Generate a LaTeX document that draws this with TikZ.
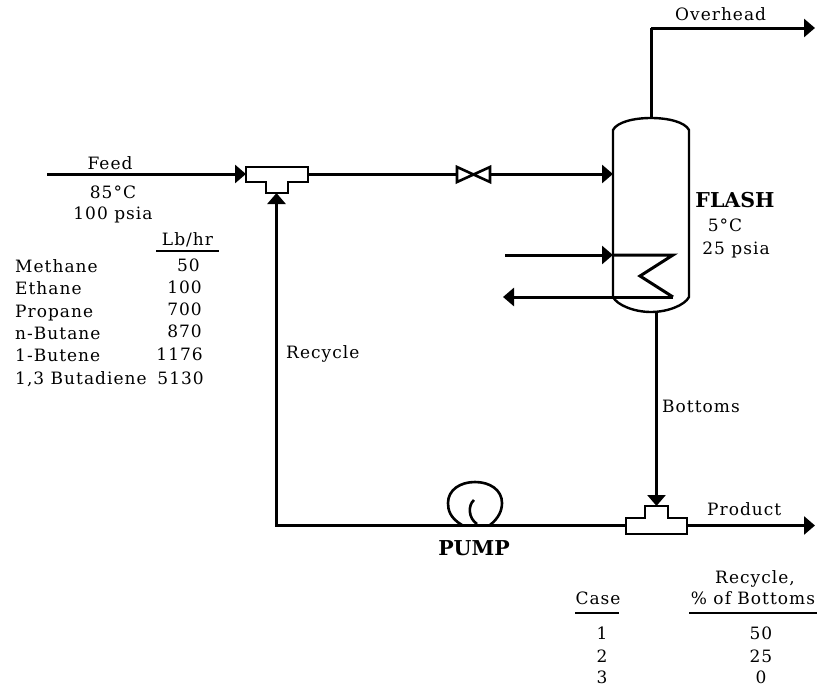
\documentclass[tikz,border=0pt]{standalone}
\usepackage{fontspec}
\setmainfont{DejaVu Serif}
\newfontfamily\labelfont[LetterSpace=6]{DejaVu Serif}
\usetikzlibrary{arrows.meta}
\tikzset{
  pipe/.style={line width=3pt,line join=miter},
  flow/.style={pipe,-{Triangle[length=11pt,width=18pt]}},
  equip/.style={line width=2.6pt,line join=miter},
  txt/.style={inner sep=0pt,text height=12.5pt,text depth=0pt,font=\labelfont\fontsize{17}{19}\selectfont},
  lft/.style={txt,anchor=west},
  rgt/.style={txt,anchor=east},
  bld/.style={inner sep=0pt,text height=15pt,text depth=0pt,font=\fontsize{20.5}{22}\selectfont\bfseries},
  tablerule/.style={line width=2pt}
}
\begin{document}
\begin{tikzpicture}[x=1pt,y=-1pt]
\useasboundingbox (0,0) rectangle (817,688);
% named points
\coordinate (feedin) at (47,174);
\coordinate (t1w) at (246,174);
\coordinate (t1e) at (308,174);
\coordinate (t1s) at (276.5,193);
\coordinate (vw) at (457,174);
\coordinate (ve) at (490,174);
\coordinate (fin) at (613,174);
\coordinate (ftop) at (651,118);
\coordinate (ovc) at (651,28);
\coordinate (ovout) at (815,28);
\coordinate (fbot) at (656.5,312);
\coordinate (t2n) at (656.5,506);
\coordinate (t2w) at (626,525.5);
\coordinate (t2e) at (687,525.5);
\coordinate (prodout) at (815,525.5);
\coordinate (rc) at (276.5,525.5);
\coordinate (coilin) at (505,255);
\coordinate (coilinv) at (613,255);
\coordinate (c1) at (673,255);
\coordinate (c2) at (640,276);
\coordinate (c3) at (673,297);
\coordinate (coilout) at (503,297);
% connectors
\draw[flow] (feedin) -- (t1w);
\draw[pipe] (t1e) -- (vw);
\draw[flow] (ve) -- (fin);
\draw[flow] (t2w) -- (rc) -- (t1s);
\draw[pipe] (ftop) -- (ovc);
\draw[flow] (ovc) -- (ovout);
\draw[flow] (fbot) -- (t2n);
\draw[flow] (t2e) -- (prodout);
\draw[flow] (coilin) -- (coilinv);
\draw[pipe] (coilinv) -- (c1) -- (c2) -- (c3);
\draw[flow] (c3) -- (coilout);
% vessel
\draw[line width=2.4pt] (613,297) -- (613,130) .. controls (617,122) and (634,118) .. (651,118)
  .. controls (668,118) and (685,122) .. (689,130) -- (689,297)
  .. controls (685,305) and (668,312) .. (651,312) .. controls (634,312) and (617,305) .. (613,297);
% tees
\draw[equip,fill=white] (246,167) -- (308,167) -- (308,182) -- (288,182) -- (288,193) -- (266,193) -- (266,182) -- (246,182) -- cycle;
\draw[equip,fill=white] (645,506) -- (668,506) -- (668,518) -- (687,518) -- (687,534) -- (626,534) -- (626,518) -- (645,518) -- cycle;
% valve
\draw[equip] (457,167) -- (457,182) -- (490,167) -- (490,182) -- cycle;
% pump
\draw[equip] (462,525) .. controls (450,518) and (448,510) .. (448,503) .. controls (448,490) and (460,482) .. (475,482)
  .. controls (490,482) and (502,490) .. (502,503) .. controls (502,510) and (499,518) .. (490,525);
\draw[equip] (474,500) .. controls (468,505) and (468,518) .. (477,524);
% labels
\node[txt] (feed) at (110,163) {Feed};
\node[txt] (ft) at (113,192) {85°C};
\node[txt] (fp) at (113,213) {100 psia};
\node[txt] (lb) at (187.5,239) {Lb/hr};
\draw[tablerule] (156,251) -- (219,251);
\node[lft] (m1) at (15,266) {Methane};   \node[rgt] (v1) at (200,265) {50};
\node[lft] (m2) at (15,288) {Ethane};    \node[rgt] (v2) at (202,287) {100};
\node[lft] (m3) at (15,311) {Propane};   \node[rgt] (v3) at (202,309) {700};
\node[lft] (m4) at (15,333) {n-Butane};  \node[rgt] (v4) at (202,331) {870};
\node[lft] (m5) at (15,355) {1-Butene};  \node[rgt] (v5) at (203,354) {1176};
\node[lft] (m6) at (15,378) {1,3 Butadiene}; \node[rgt] (v6) at (204,378) {5130};
\node[bld] (fl) at (735,200) {FLASH};
\node[txt] (flt) at (725,225) {5°C};
\node[txt] (flp) at (736,248) {25 psia};
\node[lft] (rec) at (286,352) {Recycle};
\node[lft] (bot) at (662,406) {Bottoms};
\node[lft] (ov) at (675,14) {Overhead};
\node[lft] (pr) at (707,509) {Product};
\node[bld] (pu) at (474,548) {PUMP};
\node[txt] (cs) at (598,598) {Case};
\draw[tablerule] (575,613) -- (619,613);
\node[txt] (rh1) at (755,577) {Recycle,};
\node[txt] (rh2) at (753,598) {\% of Bottoms};
\draw[tablerule] (689,613) -- (817,613);
\node[txt] (c1l) at (602,633) {1}; \node[txt] (c1v) at (761,633) {50};
\node[txt] (c2l) at (602,656) {2}; \node[txt] (c2v) at (761,656) {25};
\node[txt] (c3l) at (602,677) {3}; \node[txt] (c3v) at (761,677) {0};
\end{tikzpicture}
\end{document}
